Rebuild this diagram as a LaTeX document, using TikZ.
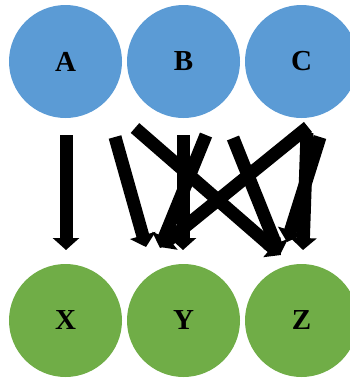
\documentclass[tikz,border=0pt]{standalone}
\usepackage{fontspec}
\setmainfont{Liberation Serif}
\usetikzlibrary{arrows.meta}
\definecolor{topblue}{HTML}{5B9BD5}
\definecolor{botgreen}{HTML}{70AD47}
\tikzset{
  ball/.style={circle, minimum size=113pt, inner sep=0pt,
    font=\fontsize{29}{29}\selectfont\bfseries},
  topball/.style={ball, fill=topblue},
  botball/.style={ball, fill=botgreen},
  link/.style={line width=13pt, -{Triangle[width=26pt,length=12pt]}}
}
\begin{document}
\begin{tikzpicture}[x=1pt,y=-1pt]
\useasboundingbox (0,0) rectangle (349,378);
% upper row
\node[topball] (A) at (65.5,61.5) {A};
\node[topball] (B) at (183.5,61.5) {B};
\node[topball] (C) at (301.5,61.5) {C};
% lower row
\node[botball] (X) at (65.5,320.5) {X};
\node[botball] (Y) at (183.5,320.5) {Y};
\node[botball] (Z) at (301.5,320.5) {Z};
% arrow end points
\coordinate (s1) at (66,135);  \coordinate (e1) at (66,250);
\coordinate (s2) at (115,137); \coordinate (e2) at (146,247);
\coordinate (s3) at (135,128); \coordinate (e3) at (281,255);
\coordinate (s4) at (183,135); \coordinate (e4) at (183,250);
\coordinate (s5) at (206,135); \coordinate (e5) at (160,248);
\coordinate (s6) at (233,138); \coordinate (e6) at (280,255);
\coordinate (s7) at (308,127); \coordinate (e7) at (160,247);
\coordinate (s8) at (320,137); \coordinate (e8) at (287,242);
\coordinate (s9) at (307,133); \coordinate (e9) at (303,250);
\foreach \i in {1,...,9} \draw[link] (s\i) -- (e\i);
\end{tikzpicture}
\end{document}
